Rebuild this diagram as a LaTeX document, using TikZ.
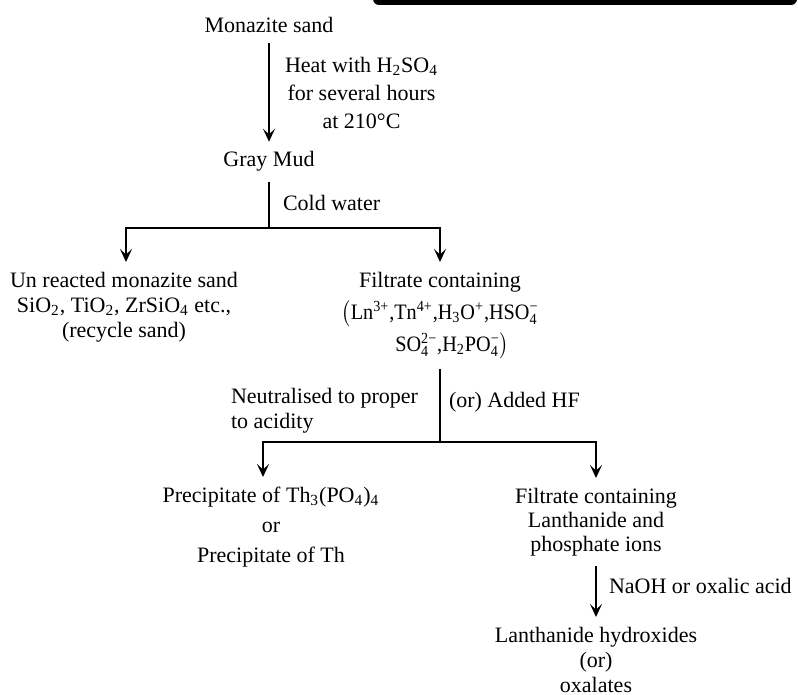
\documentclass[tikz,border=0pt]{standalone}
\usepackage{fontspec}
\usepackage{amsmath}
\setmainfont{Liberation Serif}
\usetikzlibrary{arrows.meta}

\newcommand{\chsub}[1]{\ensuremath{_{\text{#1}}}}
\newcommand{\chsup}[1]{\ensuremath{^{\text{#1}}}}
\newcommand{\chion}[2]{\ensuremath{_{\text{#1}}^{\text{#2}}}}

\begin{document}
\begin{tikzpicture}[x=0.5pt, y=-0.5pt, line width=0.9pt,
        stage/.style={inner sep=0pt, outer sep=5pt, align=center, font=\fontsize{11}{12.5}\selectfont},
        cond/.style={inner sep=0pt, outer sep=0pt, font=\fontsize{11}{12.5}\selectfont},
        arr/.style={-{Stealth[length=6.5pt, width=6pt, inset=2.8pt]}}]
        \useasboundingbox (0, 0) rectangle (798, 695);
        \fill[rounded corners=3pt] (373, -12) rectangle (797, 5);

        % stages
        \node[stage, anchor=base] (sand) at (269, 33) {Monazite sand};
        \node[stage, anchor=base] (mud) at (269, 167) {Gray Mud};
        \node[stage, anchor=north] (unreacted) at (124, 262) {Un reacted monazite sand\\ SiO\chsub{2}, TiO\chsub{2}, ZrSiO\chsub{4} etc.,\\ (recycle sand)};
        \node[stage, anchor=north, font=\fontsize{11}{16}\selectfont] (filtrate) at (440, 262) {Filtrate containing\\
            \scalebox{0.92}[1]{$\big($Ln\chsup{3+},Tn\chsup{4+},H\chsub{3}O\chsup{+},HSO\chion{4}{−}}\\
            \scalebox{0.92}[1]{\hspace{1.2em}SO\chion{4}{2−},H\chsub{2}PO\chion{4}{−}$\big)$}};
        \node[stage, anchor=north, font=\fontsize{11}{15}\selectfont] (prec) at (271, 477) {Precipitate of Th\chsub{3}(PO\chsub{4})\chsub{4}\\ or\\ Precipitate of Th};
        \node[stage, anchor=north, font=\fontsize{11}{12}\selectfont] (filt2) at (596, 478) {Filtrate containing\\ Lanthanide and\\ phosphate ions};
        \node[stage, anchor=north] (lanth) at (596, 617) {Lanthanide hydroxides\\ (or)\\ oxalates};

        % conditions
        \node[cond, anchor=north west, align=center, font=\fontsize{11}{14}\selectfont] (heat) at (285, 57) {Heat with H\chsub{2}SO\chsub{4}\\ for several hours\\ at 210°C};
        \node[cond, anchor=base west] (cold) at (283, 211) {Cold water};
        \node[cond, anchor=north west, align=left] (neut) at (231, 388) {Neutralised to proper\\ to acidity};
        \node[cond, anchor=base west] (hf) at (449, 408) {(or) Added HF};
        \node[cond, anchor=base west] (naoh) at (609, 593) {NaOH or oxalic acid};

        \coordinate (j1) at (269, 228);
        \coordinate (j2) at (440, 442);

        \draw[arr] (sand) -- (mud);
        \draw (mud) -- (j1);
        \draw[arr] (j1) -| ([xshift=1pt]unreacted.north);
        \draw[arr] (j1) -| (filtrate);
        \draw (filtrate) -- (j2);
        \draw[arr] (j2) -| ([xshift=-4pt]prec.north);
        \draw[arr] (j2) -| (filt2);
        \draw[arr] (filt2) -- (lanth);
    \end{tikzpicture}
\end{document}
